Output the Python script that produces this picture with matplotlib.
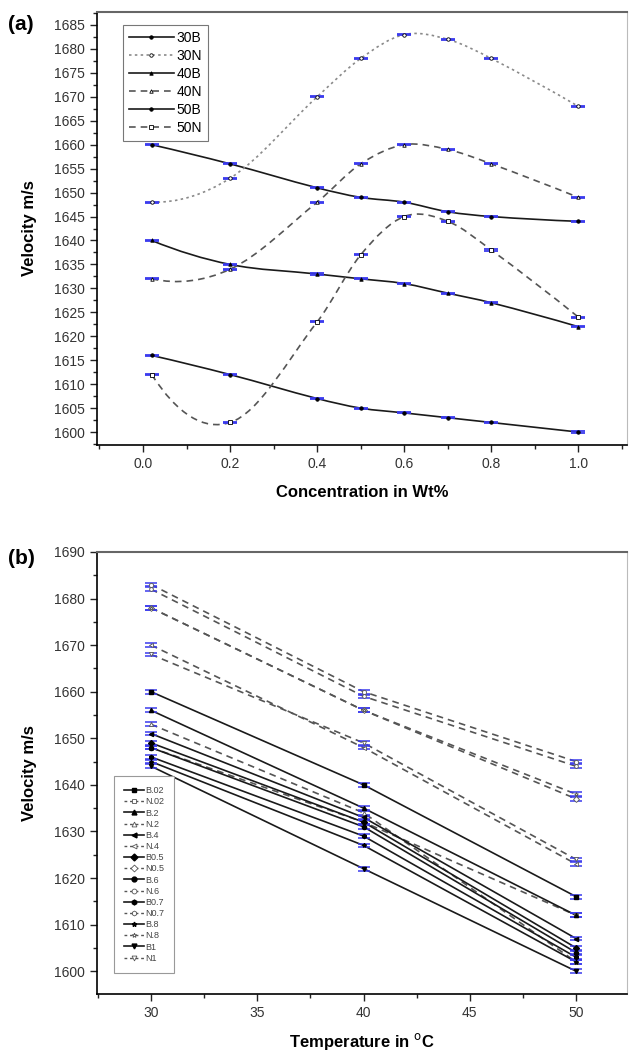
import numpy as np
import matplotlib
matplotlib.use('Agg')
import matplotlib.pyplot as plt
from matplotlib.path import Path
from matplotlib.patches import PathPatch
from matplotlib.lines import Line2D
from matplotlib.ticker import MultipleLocator

plt.rcParams['font.family'] = ['Liberation Sans', 'DejaVu Sans']

# concentration (wt%) and temperatures
conc = [0.02, 0.2, 0.4, 0.5, 0.6, 0.7, 0.8, 1.0]
conc_labels = ['.02', '.2', '.4', '0.5', '.6', '0.7', '.8', '1']
temps = [30, 40, 50]

# velocity (m/s), base fluid (B) and nanofluid (N) at each temperature
vel_30B = [1660, 1656, 1651, 1649, 1648, 1646, 1645, 1644]
vel_30N = [1648, 1653, 1670, 1678, 1683, 1682, 1678, 1668]
vel_40B = [1640, 1635, 1633, 1632, 1631, 1629, 1627, 1622]
vel_40N = [1632, 1634, 1648, 1656, 1660, 1659, 1656, 1649]
vel_50B = [1616, 1612, 1607, 1605, 1604, 1603, 1602, 1600]
vel_50N = [1612, 1602, 1623, 1637, 1645, 1644, 1638, 1624]


def spline_path(x, y):
    # cubic bezier through the points (origin-style smooth line)
    x = np.asarray(x, float)
    y = np.asarray(y, float)
    n = len(x)
    m = np.zeros(n)
    for i in range(1, n - 1):
        m[i] = (y[i + 1] - y[i - 1]) / (x[i + 1] - x[i - 1])
    m[0] = 2 * (y[1] - y[0]) / (x[1] - x[0]) - m[1]
    m[-1] = 2 * (y[-1] - y[-2]) / (x[-1] - x[-2]) - m[-2]
    verts = [(x[0], y[0])]
    codes = [Path.MOVETO]
    for i in range(n - 1):
        h = x[i + 1] - x[i]
        verts += [(x[i] + h / 3, y[i] + m[i] * h / 3),
                  (x[i + 1] - h / 3, y[i + 1] - m[i + 1] * h / 3),
                  (x[i + 1], y[i + 1])]
        codes += [Path.CURVE4] * 3
    return Path(verts, codes)


fig = plt.figure(figsize=(6.29, 10.56), dpi=100)
ax1 = fig.add_axes([0.154, 0.5786, 0.843, 0.41])
ax2 = fig.add_axes([0.154, 0.0587, 0.843, 0.4186])

tick_color = '#333333'
for ax in (ax1, ax2):
    ax.tick_params(which='both', direction='out', top=False, right=False,
                   labelsize=10, colors='#222222', labelcolor=tick_color)
    ax.tick_params(which='major', length=5, width=1)
    ax.tick_params(which='minor', length=3, width=1)
    ax.spines['left'].set_linewidth(1.2)
    ax.spines['bottom'].set_linewidth(1.2)
    ax.spines['top'].set_color('#666666')
    ax.spines['top'].set_linewidth(1.5)
    ax.spines['right'].set_color('#bbbbbb')

# ---- panel (a)
series_a = [
    ('30B', vel_30B, '-', '#1a1a1a', 1.2, 'o', 'k'),
    ('30N', vel_30N, (0, (1.5, 2)), '#8a8a8a', 1.2, 'o', 'white'),
    ('40B', vel_40B, '-', '#1a1a1a', 1.2, '^', 'k'),
    ('40N', vel_40N, (0, (4, 3)), '#555555', 1.2, '^', 'white'),
    ('50B', vel_50B, '-', '#1a1a1a', 1.2, 'o', 'k'),
    ('50N', vel_50N, (0, (4, 3)), '#555555', 1.2, 's', 'white'),
]
handles = []
for label, vals, ls, col, lw, mk, mfc in series_a:
    patch = PathPatch(spline_path(conc, vals), fill=False, edgecolor=col,
                      linestyle=ls, linewidth=lw, zorder=2)
    ax1.add_patch(patch)
    ax1.errorbar(conc, vals, yerr=0.12, fmt='none', ecolor='#3a3aee',
                 elinewidth=0.8, capsize=5, capthick=1.3, zorder=3)
    ax1.plot(conc, vals, ls='none', marker=mk, ms=2.5, color='k',
             mfc=mfc, mew=0.6, zorder=4)
    handles.append(Line2D([], [], color=col, ls=ls, lw=lw, marker=mk,
                          ms=2.5, mfc=mfc, mec='k', mew=0.6, label=label))

ax1.set_xlim(-0.106, 1.112)
ax1.set_ylim(1597.3, 1687.7)
ax1.xaxis.set_major_locator(MultipleLocator(0.2))
ax1.xaxis.set_minor_locator(MultipleLocator(0.1))
ax1.yaxis.set_major_locator(MultipleLocator(5))
ax1.yaxis.set_minor_locator(MultipleLocator(2.5))
ax1.xaxis.set_major_formatter(matplotlib.ticker.FormatStrFormatter('%.1f'))
ax1.set_xlabel('Concentration in Wt%', fontsize=12, fontweight='bold', labelpad=10)
ax1.set_ylabel('Velocity m/s', fontsize=12, fontweight='bold', labelpad=12)
leg1 = ax1.legend(handles=handles, loc='upper left', bbox_to_anchor=(0.036, 0.986),
                  fontsize=10, handlelength=3.2, handletextpad=0.2,
                  labelspacing=0.28, borderpad=0.45, fancybox=False,
                  framealpha=1, edgecolor='#777777')
leg1.get_frame().set_linewidth(0.8)

# ---- panel (b)
by_temp_B = [vel_30B, vel_40B, vel_50B]
by_temp_N = [vel_30N, vel_40N, vel_50N]
b_markers = ['s', '^', '<', 'D', 'o', 'h', '*', 'v']
n_markers = ['s', '^', '<', 'D', 'o', 'h', '*', 'v']

handles_b = []
for i, lab in enumerate(conc_labels):
    vb = [row[i] for row in by_temp_B]
    vn = [row[i] for row in by_temp_N]
    ax2.plot(temps, vb, '-', color='#1a1a1a', lw=1.2, zorder=2)
    ax2.plot(temps, vn, ls=(0, (4, 3)), color='#555555', lw=1.2, zorder=2)
    for vals in (vb, vn):
        ax2.errorbar(temps, vals, yerr=0.4, fmt='none', ecolor='#3a3aee',
                     elinewidth=0.8, capsize=4, capthick=1.1, zorder=3)
    ax2.plot(temps, vb, ls='none', marker=b_markers[i], ms=3, color='k', zorder=4)
    ax2.plot(temps, vn, ls='none', marker=n_markers[i], ms=3, color='#555555',
             mfc='white', mew=0.6, zorder=4)
    handles_b.append(Line2D([], [], color='#1a1a1a', lw=1.2, marker=b_markers[i],
                            ms=3.5, mfc='k', mec='k', label='B' + lab))
    handles_b.append(Line2D([], [], color='#555555', lw=1.0, ls=(0, (2, 2)),
                            marker=n_markers[i], ms=3.5, mfc='white', mec='#555555',
                            mew=0.6, label='N' + lab))

ax2.set_xlim(27.45, 52.4)
ax2.set_ylim(1595.1, 1690)
ax2.xaxis.set_major_locator(MultipleLocator(5))
ax2.xaxis.set_minor_locator(MultipleLocator(2.5))
ax2.yaxis.set_major_locator(MultipleLocator(10))
ax2.yaxis.set_minor_locator(MultipleLocator(5))
ax2.set_xlabel('Temperature in $^{\\mathrm{o}}$C', fontsize=12, fontweight='bold', labelpad=8)
ax2.set_ylabel('Velocity m/s', fontsize=12, fontweight='bold', labelpad=12)
leg2 = ax2.legend(handles=handles_b, loc='lower left', bbox_to_anchor=(0.024, 0.038),
                  fontsize=6.5, handlelength=2.2, handletextpad=0.15,
                  labelspacing=0.24, borderpad=1.1, fancybox=False,
                  framealpha=1, edgecolor='#999999')
for t in leg2.get_texts():
    t.set_color('#444444')
leg2.get_frame().set_linewidth(0.8)

fig.text(0.013, 0.972, '(a)', fontsize=15, fontweight='bold')
fig.text(0.013, 0.466, '(b)', fontsize=15, fontweight='bold')

fig.savefig('out.png', dpi=100)
